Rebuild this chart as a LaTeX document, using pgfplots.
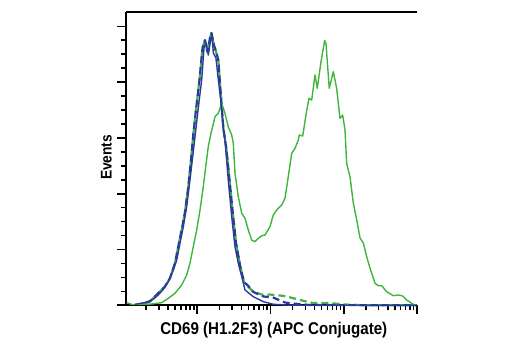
\documentclass[border=0pt]{standalone}
\usepackage{pgfplots}
\pgfplotsset{compat=1.18}
\usepackage{fontspec}
\setmainfont{Liberation Sans}
\newfontfamily\labfont{Liberation Sans}[FakeStretch=0.89]
\definecolor{cblue}{RGB}{43,58,158}
\definecolor{cgreen}{RGB}{62,182,62}
\begin{document}
\begin{tikzpicture}
\path[use as bounding box] (-126pt,-44.7pt) rectangle (394pt,305.3pt);
\begin{axis}[
  scale only axis, width=290.9pt, height=292.9pt,
  xmin=0.026, xmax=4, ymin=0, ymax=5.25,
  axis x line=bottom, axis y line=left,
  axis line style={-, line width=1.8pt, black},
  x axis line style={-}, y axis line style={-},
  tick align=outside,
  major tick length=9pt, minor tick length=5pt,
  every tick/.style={black, line width=1.6pt},
  xtick={1,2,3,4},
  minor xtick={0.301,0.477,0.602,0.699,0.778,0.845,0.903,0.954,
    1.301,1.477,1.602,1.699,1.778,1.845,1.903,1.954,
    2.301,2.477,2.602,2.699,2.778,2.845,2.903,2.954,
    3.301,3.477,3.602,3.699,3.778,3.845,3.903,3.954},
  ytick={0,1,2,3,4,5}, minor y tick num=3,
  xticklabels={}, yticklabels={},
  xlabel={\labfont\fontsize{17}{20}\selectfont\bfseries CD69 (H1.2F3) (APC Conjugate)},
  xlabel style={at={(axis description cs:0.508,-0.1014)}, anchor=base, inner sep=0pt},
  ylabel={\labfont\fontsize{15.5}{18}\selectfont\bfseries Events},
  ylabel style={at={(axis description cs:-0.049,0.505)}, rotate=0, anchor=base, inner sep=0pt},
  clip=false,
  line join=round,
]
% green dashed (isotype)
\addplot[cgreen, line width=2.2pt, dash pattern=on 7pt off 4pt] coordinates {
(0.215,0.018) (0.352,0.068) (0.443,0.185) (0.557,0.335) (0.626,0.484) (0.695,0.753)
(0.740,1.050) (0.795,1.409) (0.832,1.677) (0.877,2.125) (0.914,2.604) (0.945,3.052)
(0.982,3.500) (1.030,4.038) (1.071,4.611) (1.105,4.755) (1.139,4.540) (1.173,4.790)
(1.194,4.880) (1.228,4.665) (1.269,4.486) (1.287,4.396) (1.310,3.984) (1.355,3.195)
(1.399,2.783) (1.447,2.156) (1.488,1.618) (1.529,1.118) (1.583,0.724) (1.638,0.419)
(1.697,0.328) (1.765,0.244) (1.902,0.184) (1.993,0.193) (2.198,0.166) (2.266,0.143)
(2.495,0.065) (2.581,0.041) (2.813,0.041) (3.018,0.014) (3.359,0.0) (4.0,0.0)
};
% blue dashed (isotype)
\addplot[cblue, line width=2.2pt, dash pattern=on 7pt off 4pt, dash phase=5pt] coordinates {
(0.215,0.018) (0.352,0.068) (0.443,0.185) (0.557,0.335) (0.626,0.484) (0.695,0.753)
(0.740,1.050) (0.795,1.409) (0.832,1.677) (0.877,2.125) (0.914,2.604) (0.945,3.052)
(0.982,3.500) (1.030,4.038) (1.071,4.611) (1.105,4.755) (1.139,4.540) (1.173,4.790)
(1.194,4.880) (1.228,4.665) (1.269,4.486) (1.287,4.396) (1.310,3.984) (1.355,3.195)
(1.399,2.783) (1.447,2.156) (1.488,1.618) (1.529,1.118) (1.583,0.724) (1.638,0.419)
(1.697,0.346) (1.765,0.239) (1.902,0.158) (2.034,0.140) (2.198,0.050) (2.307,0.032)
(2.540,0.005) (4.0,0.0)
};
% green solid (CD69 stained)
\addplot[cgreen, line width=1.4pt] coordinates {
(0.033,0.050) (0.108,0.014) (0.377,0.023) (0.514,0.047) (0.604,0.125) (0.695,0.215)
(0.787,0.364) (0.855,0.543) (0.900,0.753) (0.945,1.050) (0.992,1.349) (1.037,1.708)
(1.082,2.125) (1.115,2.484) (1.150,2.842) (1.187,3.082) (1.242,3.380) (1.287,3.441)
(1.333,3.620) (1.378,3.441) (1.423,3.201) (1.470,3.052) (1.492,2.903) (1.515,2.366)
(1.560,1.946) (1.607,1.649) (1.652,1.559) (1.697,1.349) (1.743,1.170) (1.788,1.140)
(1.833,1.201) (1.880,1.247) (1.925,1.260) (1.993,1.409) (2.038,1.618) (2.085,1.708)
(2.153,1.797) (2.198,1.918) (2.243,2.305) (2.290,2.724) (2.335,2.814) (2.380,2.962)
(2.393,3.052) (2.440,3.034) (2.495,3.500) (2.526,3.710) (2.563,3.679) (2.608,4.127)
(2.639,3.889) (2.690,4.366) (2.713,4.545) (2.740,4.746) (2.758,4.695) (2.781,4.276)
(2.803,3.889) (2.836,4.068) (2.858,4.186) (2.904,3.889) (2.949,3.351) (2.986,3.410)
(3.018,3.142) (3.041,2.540) (3.086,2.305) (3.131,1.833) (3.178,1.529) (3.223,1.206)
(3.268,1.116) (3.314,0.871) (3.359,0.668) (3.428,0.394) (3.473,0.351) (3.519,0.351)
(3.587,0.244) (3.678,0.172) (3.746,0.185) (3.806,0.167) (3.861,0.095) (3.951,0.018)
(4.0,0.0)
};
% blue solid (unstimulated)
\addplot[cblue, line width=1.4pt] coordinates {
(0.149,0.018) (0.286,0.047) (0.399,0.108) (0.467,0.185) (0.536,0.287) (0.604,0.423)
(0.672,0.633) (0.719,0.812) (0.764,1.116) (0.809,1.409) (0.855,1.767) (0.900,2.246)
(0.937,2.663) (0.969,3.022) (1.010,3.500) (1.060,4.038) (1.092,4.611) (1.119,4.701)
(1.150,4.486) (1.183,4.754) (1.201,4.844) (1.219,4.522) (1.255,4.432) (1.283,4.091)
(1.320,3.679) (1.355,3.142) (1.378,2.962) (1.423,2.246) (1.470,1.588) (1.515,1.050)
(1.560,0.753) (1.607,0.513) (1.652,0.274) (1.765,0.154) (1.902,0.065) (2.038,0.018)
(2.221,0.005) (2.403,0.0) (4.0,0.0)
};
\draw[black, line width=1.8pt] (rel axis cs:0,1) -- (rel axis cs:1,1);
\end{axis}
\end{tikzpicture}
\end{document}
